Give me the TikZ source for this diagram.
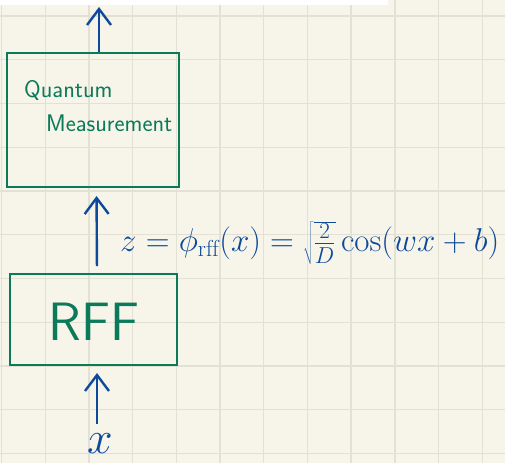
\documentclass[tikz,border=0pt]{standalone}
\usepackage{fix-cm}
\usepackage{fontspec}
\usetikzlibrary{arrows.meta,positioning}

\definecolor{penblue}{HTML}{0D4A9C}
\definecolor{pengreen}{HTML}{0A7A5A}
\definecolor{paper}{HTML}{F7F5E9}
\definecolor{gridgray}{HTML}{E3E1D4}

\tikzset{
  blockbox/.style={draw=pengreen, line width=2pt, inner sep=0pt},
  blocktext/.style={text=pengreen, font=\sffamily, inner sep=0pt},
  flow/.style={draw=penblue, line width=2.4pt,
    -{Straight Barb[length=16pt,width=24pt,line width=2.4pt]}},
  gridline/.style={draw=gridgray, line width=1.4pt},
}

\begin{document}
\begin{tikzpicture}[x=1pt,y=-1pt]
    % Paper with grid
    \fill[paper] (0,0) rectangle (505,463);
    \useasboundingbox (0,0) rectangle (505,463);
    \foreach \i in {0,...,11}
        \draw[gridline] ({1.5+43.7*\i},0) -- ({1.5+43.7*\i},463);
    \foreach \j in {0,...,10}
        \draw[gridline] (0,{16+43.75*\j}) -- (505,{16+43.75*\j});
    \fill[white] (0,0) rectangle (388,5);

    % Blocks
    \node[blockbox, minimum width=172pt, minimum height=134pt] (qm) at (93,120) {};
    \node[blocktext, align=left, anchor=north west,
          font=\sffamily\fontsize{24}{34}\selectfont] (qmtext) at (24,80)
        {Quantum\\\hspace*{22pt}Measurement};
    \node[blocktext, font=\sffamily\fontsize{54}{60}\selectfont] (rfftext) at (94,322) {RFF};
    \node[blockbox, minimum width=167pt, minimum height=91pt] (rff) at (93.5,319.5) {};

    % Input and output
    \node[text=penblue, inner sep=0pt, font=\fontsize{46}{52}\selectfont] (xin) at (100,444) {$x$};
    \coordinate (out) at (99,7);

    % Arrows
    \draw[flow] ([xshift=6pt]qm.north) -- (out);
    \draw[flow, shorten <=7pt, shorten >=8pt] ([xshift=3.5pt]rff.north) -- ([xshift=3.5pt]qm.south);
    \draw[flow, shorten <=10pt, shorten >=7pt] ([xshift=-3pt]xin.north) -- ([xshift=3.5pt]rff.south);

    % Feature map
    \node[text=penblue, anchor=west, inner sep=0pt, font=\fontsize{33}{38}\selectfont] (eq) at (120,243)
        {$z=\phi_{\mathrm{rff}}(x)=\sqrt{\frac{2}{D}}\cos(wx+b)$};
\end{tikzpicture}
\end{document}
